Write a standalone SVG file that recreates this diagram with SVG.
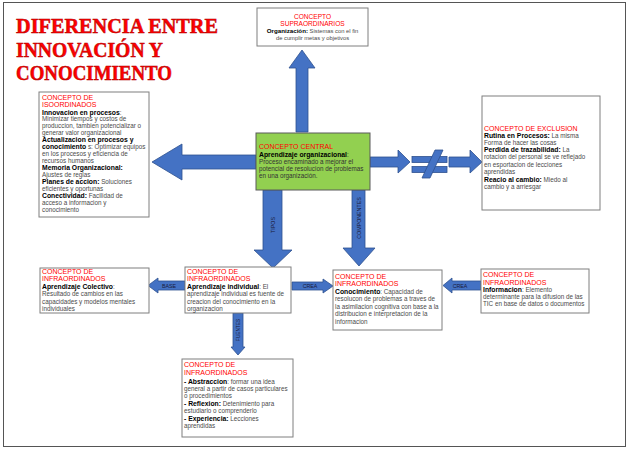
<svg xmlns="http://www.w3.org/2000/svg" width="629" height="450" viewBox="0 0 629 450">
<style>
.box{fill:#fff;stroke:#7f7f7f;stroke-width:1}
.ctr{fill:#92D050;stroke:#5a5a5a;stroke-width:1}
.h{font-family:"Liberation Sans",Arial,sans-serif;font-size:7px;fill:#ff0000}
.t{font-family:"Liberation Sans",Arial,sans-serif;font-size:6.3px;fill:#4a4a4a}
.b{font-weight:bold;fill:#000;font-size:6.8px}
.ar{fill:#4472C4;stroke:#2F528F;stroke-width:0.8}
.lbl{font-family:"Liberation Sans",Arial,sans-serif;font-size:5.3px;fill:#1a1a3a}
.title{font-family:"Liberation Serif","Times New Roman",serif;font-weight:bold;font-size:22px;fill:#ff0000;stroke:#b00000;stroke-width:0.5}
</style>
<rect x="0" y="0" width="629" height="450" fill="#fff"/>
<rect x="3.5" y="2.5" width="622" height="444" fill="none" stroke="#555" stroke-width="1"/>
<g id="title">
<text class="title" x="16" y="33" textLength="202" lengthAdjust="spacingAndGlyphs">DIFERENCIA ENTRE</text>
<text class="title" x="16" y="57" textLength="147" lengthAdjust="spacingAndGlyphs">INNOVACIÓN Y</text>
<text class="title" x="16" y="80" textLength="156" lengthAdjust="spacingAndGlyphs">CONOCIMIENTO</text>
</g>
<g id="connectors">
<polygon class="ar" points="296,132 296,68 289,68 302,50 315,68 308,68 308,132"/>
<polygon class="ar" points="256,155 182,155 182,144 152,162 182,180 182,169 256,169"/>
<polygon class="ar" points="370,157 398,157 398,150 410,162 398,173 398,167 370,167"/>
<g id="neq">
<rect class="ar" x="412" y="156.5" width="35" height="6"/>
<rect class="ar" x="412" y="166.5" width="35" height="6"/>
<polygon class="ar" points="435,150 443,150 430,178 422,178"/>
</g>
<polygon class="ar" points="449,157 470,157 470,150 482,162 470,173 470,167 449,167"/>
<polygon class="ar" points="263,190 263,250 254,250 273,268 292,250 282,250 282,190"/>
<text class="lbl" transform="translate(274.5,225) rotate(-90)" text-anchor="middle">TIPOS</text>
<polygon class="ar" points="352,190 352,248 343,248 359,266 375,248 365,248 365,190"/>
<text class="lbl" transform="translate(360.5,218) rotate(-90)" text-anchor="middle">COMPONENTES</text>
<polygon class="ar" points="185,281 158,281 158,278 148,285.5 158,293 158,290 185,290"/>
<text class="lbl" x="169" y="287.5" text-anchor="middle">BASE</text>
<polygon class="ar" points="292,282 323,282 323,279 333,286 323,293 323,290 292,290"/>
<text class="lbl" x="310" y="288" text-anchor="middle">CREA</text>
<polygon class="ar" points="481,281 452,281 452,278 443,285.5 452,293 452,290 481,290"/>
<text class="lbl" x="460" y="287.5" text-anchor="middle">CREA</text>
<polygon class="ar" points="233,313 233,347 231,347 238,355 245,347 243,347 243,313"/>
<text class="lbl" transform="translate(240,330) rotate(-90)" text-anchor="middle" style="font-size:4.8px">FUENTES</text>
</g>
<g id="supra">
<rect class="box" x="257" y="8" width="111" height="38"/>
<text class="h" x="312.5" y="18.5" text-anchor="middle" style="font-size:6.6px">CONCEPTO</text>
<text class="h" x="312.5" y="26" text-anchor="middle" style="font-size:6.6px">SUPRAORDINARIOS</text>
<text class="t" x="312.5" y="33" text-anchor="middle" style="font-size:5.8px"><tspan class="b" style="font-size:6.2px">Organización:</tspan> Sistemas con el fin</text>
<text class="t" x="312.5" y="39.5" text-anchor="middle" style="font-size:5.8px">de cumplir metas y objetivos</text>
</g>
<g id="iso">
<rect class="box" x="39" y="92" width="110" height="125"/>
<text class="h" x="42" y="99.5">CONCEPTO DE</text>
<text class="h" x="42" y="107">ISOORDINADOS</text>
<text class="t" x="42" y="114.5"><tspan class="b">Innovacion en procesos</tspan>:</text>
<text class="t" x="42" y="121">Minimizar tiempos y costos de</text>
<text class="t" x="42" y="128">produccion, tambien potencializar o</text>
<text class="t" x="42" y="135">generar valor organizacional</text>
<text class="t" x="42" y="142"><tspan class="b">Actualizacion en procesos y</tspan></text>
<text class="t" x="42" y="149"><tspan class="b">conocimiento</tspan> s: Optimizar equipos</text>
<text class="t" x="42" y="156">en los procesos y eficiencia de</text>
<text class="t" x="42" y="163">recursos humanos</text>
<text class="t" x="42" y="170"><tspan class="b">Memoria Organizacional:</tspan></text>
<text class="t" x="42" y="177">Ajustes de reglas</text>
<text class="t" x="42" y="184"><tspan class="b">Planes de accion:</tspan> Soluciones</text>
<text class="t" x="42" y="191">eficientes y oportunas</text>
<text class="t" x="42" y="198"><tspan class="b">Conectividad:</tspan> Facilidad de</text>
<text class="t" x="42" y="205">acceso a informacion y</text>
<text class="t" x="42" y="212">conocimiento</text>
</g>
<g id="central">
<rect class="ctr" x="256" y="133" width="114" height="57"/>
<text class="h" x="259" y="149">CONCEPTO CENTRAL</text>
<text class="t" x="259" y="156.5" style="fill:#222"><tspan class="b">Aprendizaje organizacional</tspan>:</text>
<text class="t" x="259" y="163.5" style="fill:#333">Proceso encaminado a mejorar el</text>
<text class="t" x="259" y="170.8" style="fill:#333">potencial de resolucion de problemas</text>
<text class="t" x="259" y="178" style="fill:#333">en una organización.</text>
</g>
<g id="exclusion">
<rect class="box" x="482" y="96" width="118" height="114"/>
<text class="h" x="484" y="130.5">CONCEPTO DE EXCLUSION</text>
<text class="t" x="484" y="137.5"><tspan class="b">Rutina en Procesos:</tspan> La misma</text>
<text class="t" x="484" y="144.5">Forma de hacer las cosas</text>
<text class="t" x="484" y="151.5"><tspan class="b">Perdida de trazabilidad:</tspan> La</text>
<text class="t" x="484" y="159">rotacion del personal se ve reflejado</text>
<text class="t" x="484" y="166.5">en esportacion de lecciones</text>
<text class="t" x="484" y="174">aprendidas</text>
<text class="t" x="484" y="181.5"><tspan class="b">Reacio al cambio:</tspan> Miedo al</text>
<text class="t" x="484" y="189">cambio y a arriesgar</text>
</g>
<g id="colectivo">
<rect class="box" x="40" y="268" width="109" height="45"/>
<text class="h" x="42" y="273.5">CONCEPTO DE</text>
<text class="h" x="42" y="281">INFRAORDINADOS</text>
<text class="t" x="42" y="288.5"><tspan class="b">Aprendizaje Colectivo</tspan>:</text>
<text class="t" x="42" y="296">Resultado de cambios en las</text>
<text class="t" x="42" y="303.5">capacidades y modelos mentales</text>
<text class="t" x="42" y="311">individuales</text>
</g>
<g id="individual">
<rect class="box" x="185" y="267" width="106" height="46"/>
<text class="h" x="187" y="273.5">CONCEPTO DE</text>
<text class="h" x="187" y="281">INFRAORDINADOS</text>
<text class="t" x="187" y="288.5"><tspan class="b">Aprendizaje individual</tspan>: El</text>
<text class="t" x="187" y="296">aprendizaje individual es fuente de</text>
<text class="t" x="187" y="303.5">creacion del conocimiento en la</text>
<text class="t" x="187" y="311">organizacion</text>
</g>
<g id="conocimiento">
<rect class="box" x="333" y="270" width="109" height="60"/>
<text class="h" x="335" y="278.5">CONCEPTO DE</text>
<text class="h" x="335" y="286">INFRAORDINADOS</text>
<text class="t" x="335" y="293.5"><tspan class="b">Conocimiento</tspan>: Capacidad de</text>
<text class="t" x="335" y="301">resolucon de problemas a traves de</text>
<text class="t" x="335" y="308.5">la asimilacion cognitiva con base a la</text>
<text class="t" x="335" y="316">distribucion e interpretacion de la</text>
<text class="t" x="335" y="323.5">informacion</text>
</g>
<g id="informacion">
<rect class="box" x="481" y="269" width="108" height="44"/>
<text class="h" x="483" y="277">CONCEPTO DE</text>
<text class="h" x="483" y="284.5">INFRAORDINADOS</text>
<text class="t" x="483" y="291.8"><tspan class="b">Informacion</tspan>: Elemento</text>
<text class="t" x="483" y="299">determinante para la difusion de las</text>
<text class="t" x="483" y="306">TIC en base de datos o documentos</text>
</g>
<g id="fuentes">
<rect class="box" x="182" y="359" width="111" height="78"/>
<text class="h" x="184" y="367">CONCEPTO DE</text>
<text class="h" x="184" y="374.5">INFRAORDINADOS</text>
<text class="t" x="184" y="383.5"><tspan class="b">- Abstraccion</tspan>: formar una idea</text>
<text class="t" x="184" y="391">general a partir de casos particulares</text>
<text class="t" x="184" y="398">o procedimientos</text>
<text class="t" x="184" y="406"><tspan class="b">- Reflexion:</tspan> Detenimiento para</text>
<text class="t" x="184" y="413">estudiarlo o comprenderlo</text>
<text class="t" x="184" y="421"><tspan class="b">- Experiencia:</tspan> Lecciones</text>
<text class="t" x="184" y="428">aprendidas</text>
</g>
</svg>
